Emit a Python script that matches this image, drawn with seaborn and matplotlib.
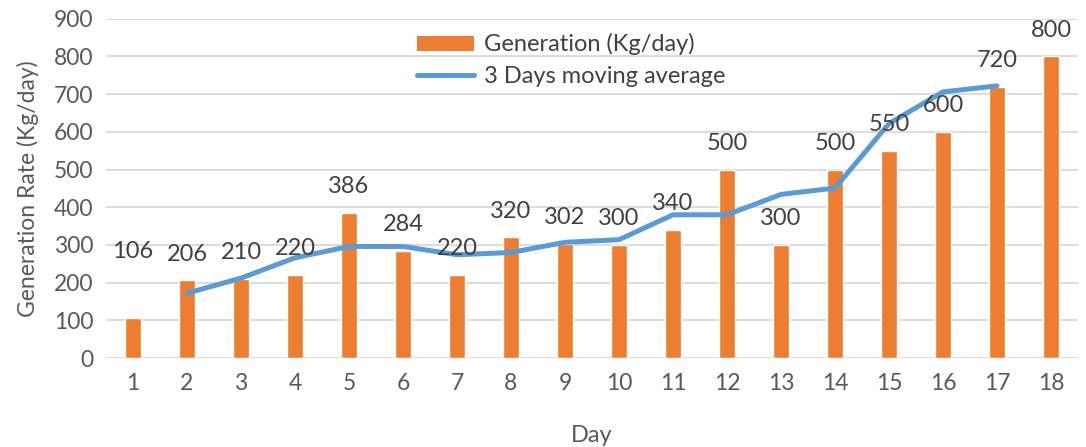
import numpy as np
import pandas as pd
import matplotlib
matplotlib.use("Agg")
import matplotlib.pyplot as plt
import seaborn as sns
from matplotlib.patches import Patch
from matplotlib.lines import Line2D

days = list(range(1, 19))
generation = [106, 206, 210, 220, 386, 284, 220, 320, 302, 300, 340, 500, 300, 500, 550, 600, 720, 800]

# 3 days moving average (starts at day 2)
ma_days = list(range(2, 18))
moving_avg = [172, 212, 266, 296, 296, 274, 280, 307, 314, 380, 380, 434, 451, 622, 706, 722]

bar_color = "#ED7D31"
line_color = "#5B9BD5"
text_color = "#404040"
tick_color = "#595959"

sns.set_theme(style="whitegrid")
plt.rcParams['font.family'] = ['Lato', 'DejaVu Sans']

df = pd.DataFrame({"Day": days, "Generation": generation})
ma = pd.DataFrame({"Day": ma_days, "MA": moving_avg})

fig = plt.figure(figsize=(10.86, 4.47), dpi=100)
ax = fig.add_axes([0.0976, 0.199, 0.895, 0.759])

sns.barplot(data=df, x="Day", y="Generation", native_scale=True, width=0.28,
            color=bar_color, saturation=1, ax=ax, zorder=2)
sns.lineplot(data=ma, x="Day", y="MA", color=line_color, linewidth=3.6, ax=ax,
             zorder=3, solid_capstyle="round", solid_joinstyle="round")

# data labels above bars (first one sits higher in the original)
for i, (d, v) in enumerate(zip(days, generation)):
    lift = 48 if i == 0 else 19
    ax.annotate(str(v), (d, v), xytext=(0, lift), textcoords="offset points",
                ha="center", va="center", fontsize=17, color=text_color, zorder=4)

ax.set_xlim(0.5, 18.5)
ax.set_ylim(0, 900)
ax.set_xticks(days)
ax.set_yticks(range(0, 901, 100))
ax.tick_params(axis="both", length=0, labelsize=16.5, colors=tick_color)
ax.tick_params(axis="x", pad=11)
ax.tick_params(axis="y", pad=9)
ax.grid(axis="y", color="#D9D9D9", linewidth=1.3)
ax.grid(axis="x", visible=False)
for s in ax.spines.values():
    s.set_visible(False)

ax.set_xlabel("Day", fontsize=17, color=tick_color, labelpad=22)
ax.set_ylabel("Generation Rate (Kg/day)", fontsize=16.5, color=tick_color, labelpad=11)

handles = [Patch(facecolor=bar_color, edgecolor="none"),
           Line2D([0], [0], color=line_color, linewidth=3.6)]
ax.legend(handles, ["Generation (Kg/day)", "3 Days moving average"],
          loc="upper left", bbox_to_anchor=(0.298, 1.02), frameon=False,
          fontsize=17, handlelength=2.4, handleheight=0.6, labelspacing=0.45,
          handletextpad=0.45, labelcolor=text_color)

fig.savefig("out.png", dpi=100)
